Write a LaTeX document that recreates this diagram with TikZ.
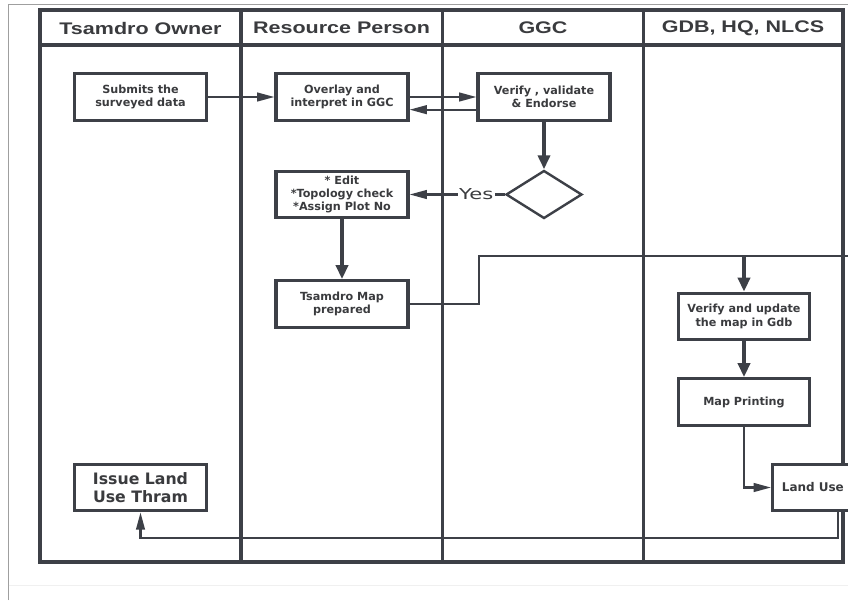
\documentclass[tikz,border=0pt]{standalone}
\usepackage{fontspec}
\setmainfont{DejaVu Sans}
\newfontfamily\yesfont[FakeStretch=1.4]{DejaVu Sans}
\newfontfamily\headfont[FakeStretch=1.28]{Liberation Sans}
\usetikzlibrary{arrows.meta,shapes.geometric}
\definecolor{ink}{HTML}{3D4047}
\definecolor{txt}{HTML}{3A3B3E}

\begin{document}
\begin{tikzpicture}[x=0.75pt,y=-0.75pt]
\tikzstyle{lane}=[draw=ink,line width=2.4pt]
\tikzstyle{head}=[text=txt,font=\headfont\fontsize{12.6}{15}\selectfont\bfseries]
\tikzstyle{box}=[draw=ink,line width=2.3pt,fill=white,minimum width=99pt,minimum height=35pt,
  align=center,inner sep=2pt,text=txt,font=\fontsize{8.4}{10}\selectfont\bfseries]
\tikzstyle{conn}=[draw=ink,line width=1.6pt,-{Triangle[length=13pt,width=6.5pt]}]
\tikzstyle{bigconn}=[draw=ink,line width=2.8pt,-{Triangle[length=10.5pt,width=9pt]}]
\useasboundingbox (0,0) rectangle (848,600);
\clip (0,0) rectangle (848,600);
\fill[white] (0,0) rectangle (848,600);
\draw[gray!75,line width=0.8pt] (8.5,600) -- (8.5,4.5) -- (848,4.5);
\draw[gray!12,line width=0.6pt] (8.5,585) -- (848,585);
% pool and lanes
\draw[lane] (40,10) rectangle (843,562);
\draw[lane] (40,45) -- (843,45);
\foreach \x in {241,442.5,643.5}
  \draw[lane] (\x,10) -- (\x,562);
\node[head] (h1) at (140.5,28) {Tsamdro Owner};
\node[head] (h2) at (341.5,28) {Resource Person};
\node[head] (h3) at (543,28) {GGC};
\node[head] (h4) at (743,28) {GDB, HQ, NLCS};
% steps
\node[box] (submit) at (140.5,97) {Submits the\\surveyed data};
\node[box] (overlay) at (342,97) {Overlay and\\interpret in GGC};
\node[box] (verify) at (544,97) {Verify , validate\\\& Endorse};
\node[draw=ink,line width=1.8pt,shape=diamond,fill=white,aspect=1.58,inner sep=0pt,
  minimum width=57pt,minimum height=36pt] (check) at (544,194.5) {};
\node[box] (edit) at (342,194.5) {* Edit\\*Topology check\\*Assign Plot No};
\node[box] (tmap) at (342,304) {Tsamdro Map\\prepared};
\node[box,minimum width=98pt] (vupd) at (744,316.5) {Verify and update\\the map in Gdb};
\node[box,minimum width=98pt] (mprint) at (744,402) {Map Printing};
\node[box,anchor=west,text width=86pt,align=left,inner xsep=7pt,
  font=\fontsize{9}{11}\selectfont\bfseries] (landuse) at (771,487.5) {Land Use};
\node[box,font=\fontsize{11.8}{13}\selectfont\bfseries] (issue) at (140.5,487.5) {Issue Land\\Use Thram};
\coordinate (j1) at (479,256);
\coordinate (jb) at (744,256);
\coordinate (jr) at (860,256);
\coordinate (r1) at (838,538);
% connectors
\draw[conn] (submit) -- (overlay);
\draw[conn] (overlay.east) -- (verify.west);
\draw[conn] ([yshift=-9.5pt]verify.west) -- ([yshift=-9.5pt]overlay.east);
\draw[bigconn] (verify) -- (check);
\draw[conn] (check.west) -- node[pos=0.3,fill=white,inner sep=1pt,text=txt,
  font=\yesfont\fontsize{11.3}{13}\selectfont] (yes) {Yes} (edit.east);
\draw[bigconn] (edit) -- (tmap);
\draw[draw=ink,line width=1.6pt] (tmap.east) -| (j1) -- (jr);
\draw[bigconn] (jb) -- (vupd);
\draw[bigconn] (vupd) -- (mprint);
\draw[conn] (mprint) |- (landuse.west);
\draw[conn] (landuse.south -| r1) -- (r1) -| (issue.south);
\end{tikzpicture}
\end{document}
